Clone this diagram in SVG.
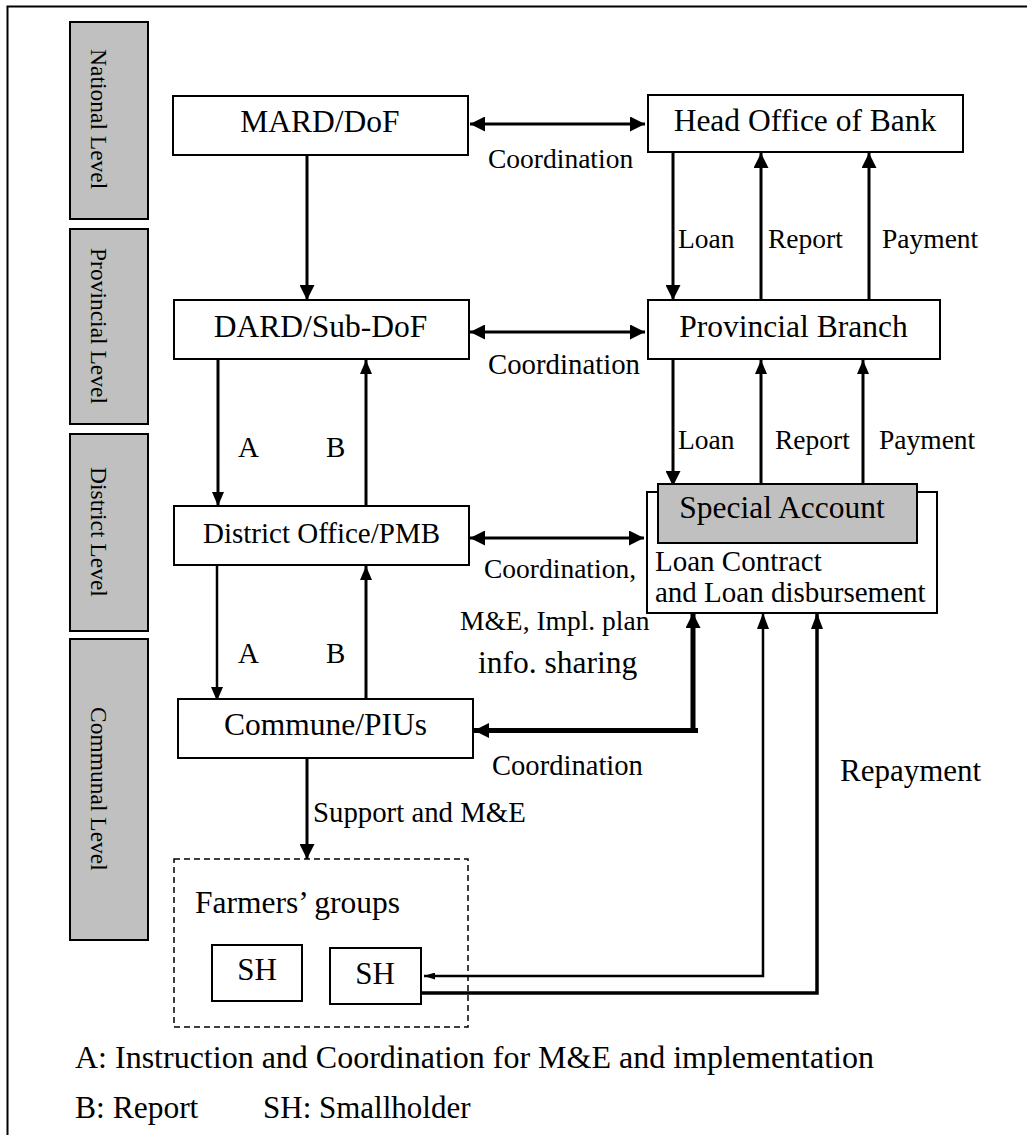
<svg xmlns="http://www.w3.org/2000/svg" width="1027" height="1135" viewBox="0 0 1027 1135">
<style>
text{font-family:"Liberation Serif","Times New Roman",serif;fill:#000}
.box{fill:#fff;stroke:#000;stroke-width:2}
.gray{fill:#c0c0c0;stroke:#000;stroke-width:2}
.ln{fill:none;stroke:#000;stroke-width:3}
.thin{fill:none;stroke:#000;stroke-width:2.5}
.lvl{font-size:23.5px}
.n{font-size:31.5px;text-anchor:middle}
.lab{font-size:27.5px}
</style>
<defs>
<marker id="ah" viewBox="0 0 15 15" refX="15" refY="7.5" markerWidth="15" markerHeight="15" markerUnits="userSpaceOnUse" orient="auto-start-reverse"><path d="M0,0 L15,7.5 L0,15 z"/></marker>
<marker id="ahs" viewBox="0 0 14 12" refX="14" refY="6" markerWidth="14" markerHeight="12" markerUnits="userSpaceOnUse" orient="auto-start-reverse"><path d="M0,0 L14,6 L0,12 z"/></marker>
<marker id="ahn" viewBox="0 0 16 12" refX="16" refY="6" markerWidth="16" markerHeight="12" markerUnits="userSpaceOnUse" orient="auto-start-reverse"><path d="M0,0 L16,6 L0,12 z"/></marker>
<marker id="aht" viewBox="0 0 11 7" refX="11" refY="3.5" markerWidth="11" markerHeight="7" markerUnits="userSpaceOnUse" orient="auto-start-reverse"><path d="M0,0 L11,3.5 L0,7 z"/></marker>
</defs>

<g id="frame">
<path d="M7.5,1135 L7.5,6.5 L1027,6.5" fill="none" stroke="#000" stroke-width="2"/>
</g>

<g id="levels">
<g id="level-national"><rect class="gray" x="70" y="22" width="78" height="197"/><text class="lvl" transform="translate(91,49) rotate(90)">National Level</text></g>
<g id="level-provincial"><rect class="gray" x="70" y="229" width="78" height="195"/><text class="lvl" transform="translate(91,248) rotate(90)">Provincial Level</text></g>
<g id="level-district"><rect class="gray" x="70" y="434" width="78" height="197"/><text class="lvl" transform="translate(91,467) rotate(90)">District Level</text></g>
<g id="level-communal"><rect class="gray" x="70" y="639" width="78" height="301"/><text class="lvl" transform="translate(91,707) rotate(90)">Communal Level</text></g>
</g>

<g id="connectors">
<line class="ln" x1="470" y1="124" x2="645" y2="124" marker-start="url(#ah)" marker-end="url(#ah)"/>
<line class="ln" x1="307" y1="155" x2="307" y2="300" marker-end="url(#ah)"/>
<line class="ln" x1="673" y1="153" x2="673" y2="300" marker-end="url(#ah)"/>
<line class="ln" x1="761" y1="300" x2="761" y2="153" marker-end="url(#ah)"/>
<line class="ln" x1="869" y1="300" x2="869" y2="153" marker-end="url(#ah)"/>
<line class="ln" x1="470" y1="332" x2="645" y2="332" marker-start="url(#ah)" marker-end="url(#ah)"/>
<line class="ln" x1="218" y1="359" x2="218" y2="506" marker-end="url(#ahs)"/>
<line class="ln" x1="366" y1="507" x2="366" y2="360" marker-end="url(#ahs)"/>
<line class="ln" x1="673" y1="359" x2="673" y2="486" marker-end="url(#ah)"/>
<line class="ln" x1="761" y1="484" x2="761" y2="360" marker-end="url(#ahs)"/>
<line class="ln" x1="863" y1="484" x2="863" y2="360" marker-end="url(#ahs)"/>
<line class="ln" x1="470" y1="538" x2="644" y2="538" marker-start="url(#ah)" marker-end="url(#ah)"/>
<line class="thin" x1="217" y1="565" x2="217" y2="701" marker-end="url(#ahs)"/>
<line class="ln" x1="366" y1="700" x2="366" y2="566" marker-end="url(#ahs)"/>
<path d="M474,730.5 L693,730.5 L693,613" fill="none" stroke="#000" stroke-width="5" marker-start="url(#ah)" marker-end="url(#ah)"/>
<line x1="693" y1="730.5" x2="698" y2="730.5" stroke="#000" stroke-width="5"/>
<path d="M424,976 L763,976 L763,613" fill="none" stroke="#000" stroke-width="2.5" marker-start="url(#aht)" marker-end="url(#ahn)"/>
<path d="M421,993 L817,993 L817,613" fill="none" stroke="#000" stroke-width="3.5" marker-end="url(#ahn)"/>
<line class="ln" x1="307" y1="758" x2="307" y2="859" marker-end="url(#ah)"/>
</g>

<g id="labels">
<text class="lab" x="488" y="168">Coordination</text>
<text style="font-size:28.8px" x="488" y="374">Coordination</text>
<text class="lab" x="484" y="578">Coordination,</text>
<text class="lab" x="460" y="630">M&amp;E, Impl. plan</text>
<text style="font-size:31.5px" x="478" y="673">info. sharing</text>
<text style="font-size:28.6px" x="492" y="775">Coordination</text>
<text style="font-size:31px" x="840" y="781">Repayment</text>
<text class="lab" x="678" y="248">Loan</text>
<text class="lab" x="768" y="248">Report</text>
<text class="lab" x="882" y="248">Payment</text>
<text class="lab" x="678" y="449">Loan</text>
<text class="lab" x="775" y="449">Report</text>
<text class="lab" x="879" y="449">Payment</text>
<text style="font-size:29px" x="238" y="457">A</text>
<text style="font-size:29px" x="326" y="457">B</text>
<text style="font-size:29px" x="238" y="663">A</text>
<text style="font-size:29px" x="326" y="663">B</text>
<text style="font-size:28.8px" x="313" y="822">Support and M&amp;E</text>
</g>

<g id="node-mard"><rect class="box" x="173" y="96" width="295" height="59"/><text class="n" x="320" y="132">MARD/DoF</text></g>
<g id="node-head-office"><rect class="box" x="648" y="95" width="315" height="57"/><text class="n" x="805" y="131">Head Office of Bank</text></g>
<g id="node-dard"><rect class="box" x="174" y="300" width="295" height="59"/><text class="n" x="320.5" y="337">DARD/Sub-DoF</text></g>
<g id="node-provincial-branch"><rect class="box" x="648" y="300" width="292" height="59"/><text class="n" x="793.5" y="337">Provincial Branch</text></g>
<g id="node-district"><rect class="box" x="174" y="506" width="295" height="59"/><text class="n" style="font-size:29px" x="321.5" y="543">District Office/PMB</text></g>
<g id="node-loan-contract"><rect class="box" x="647" y="492" width="290" height="121"/>
<text style="font-size:29px" x="655" y="571">Loan Contract</text>
<text style="font-size:29px" x="655" y="602">and Loan disbursement</text></g>
<g id="node-special-account"><rect class="gray" x="658" y="484" width="259" height="59"/><text class="n" x="782" y="518">Special Account</text></g>
<g id="node-commune"><rect class="box" x="178" y="699" width="295" height="59"/><text class="n" x="325.5" y="735">Commune/PIUs</text></g>
<g id="node-farmers"><rect x="174" y="859" width="294" height="168" fill="none" stroke="#000" stroke-width="1.5" stroke-dasharray="6,4"/>
<text style="font-size:31.5px" x="195" y="913">Farmers’ groups</text></g>
<g id="node-sh1"><rect class="box" x="212" y="945" width="90" height="56"/><text class="n" style="font-size:31px" x="257" y="980">SH</text></g>
<g id="node-sh2"><rect class="box" x="330" y="948" width="91" height="56"/><text class="n" style="font-size:31px" x="375" y="984">SH</text></g>

<g id="legend">
<text style="font-size:32px" x="75" y="1068">A: Instruction and Coordination for M&amp;E and implementation</text>
<text style="font-size:31.5px" x="75" y="1118">B: Report</text>
<text style="font-size:31px" x="263" y="1118">SH: Smallholder</text>
</g>
</svg>
